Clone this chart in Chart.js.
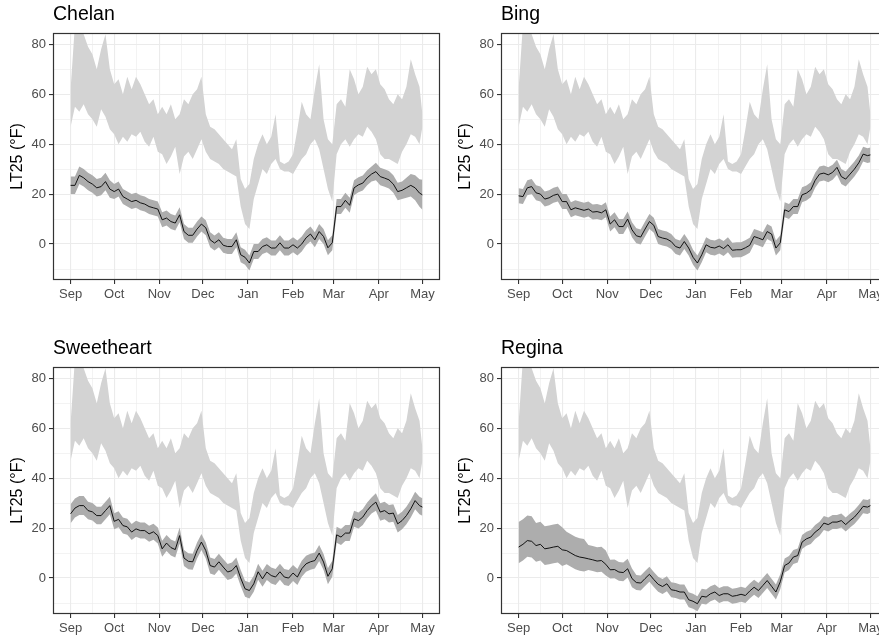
<!DOCTYPE html>
<html lang="en">
<head>
<meta charset="UTF-8" />
<title>LT25 by cultivar</title>
<script src="https://cdn.jsdelivr.net/npm/chart.js"></script>
<style>
  html, body { margin: 0; padding: 0; background: #fff; overflow: hidden; }
  body { width: 879px; height: 637px; position: relative; }
  .panel { position: absolute; width: 448px; height: 334px; }
</style>
</head>
<body>
  <div class="panel" style="left:0;top:0"><canvas id="chelan" width="448" height="334"></canvas></div>
  <div class="panel" style="left:448px;top:0"><canvas id="bing" width="448" height="334"></canvas></div>
  <div class="panel" style="left:0;top:334px"><canvas id="sweetheart" width="448" height="334"></canvas></div>
  <div class="panel" style="left:448px;top:334px"><canvas id="regina" width="448" height="334"></canvas></div>

<script>
// days since Sep 1
const days = [0,3,6,9,12,15,18,21,24,27, 30,33,36,39,42,45,48,51,54,57,
  60,63,66,69,72,75,78,81,84,87, 90,93,96,99,102,105,108,111,114,117,
  120,123,126,129,132,135,138,141,144,147, 150,153,156,159,162,165,168,171,174,177,
  180,183,186,189,192,195,198,201,204,207, 210,213,216,219,222,225,228,231,234,237,
  240,242];

// air temperature range (same site for every panel)
const tempHi = [62,88,86,84,79,76,70,78,84,70, 64,66,60,67,62,67,64,60,56,58,
  52,55,52,56,50,52,58,56,60,62, 67,52,47,46,44,42,40,38,42,26,
  22,24,34,40,44,40,43,52,33,32, 33,36,46,57,52,50,62,72,50,42,
  40,56,58,55,70,66,60,63,71,68, 70,64,62,58,56,60,58,63,74,68,
  63,52];
const tempLo = [47,55,53,56,52,50,47,54,51,46, 44,40,43,41,44,43,45,41,39,43,
  37,36,32,35,39,28,35,37,34,38, 42,37,34,33,32,30,29,28,27,15,
  8,6,18,24,30,28,32,34,30,29, 29,28,31,34,36,40,42,38,30,22,
  17,36,40,42,39,42,44,43,47,45, 42,36,34,34,33,32,37,40,44,43,
  40,47];

const chelanLT25 = [23.5,23.5,27.5,26.5,25,24,22.5,23,25,22, 21,22,19,18,17,17.5,16.5,16,15,14.5,
  14,9.7,10.4,9,8.4,11.7,5,3.5,3.5,6, 8,6.5,1.7,0.4,1.7,-0.5,-1,-1,1.7,-4.3,
  -5.3,-7.6,-3,-3,-1,-0.3,-1.6,-1.6,0.5,-1.6, -1.6,-0.3,-1.6,0,2.5,4,1.7,5,3,-1.5,
  0.5,15,15,17.5,15.5,22.5,23.7,24.4,26.5,28, 29,27,26.4,25.7,24,21,21.5,22.5,23.5,22.5,
  20.4,19.7];
const chelanSpread = [3.5,3.5,3.5,3.5,3.5,3.5,3.5,3.5,3.5,3.5, 3,3,3,3,3,3,3,3,3,3,
  3,3,3,3,3,3,3,3,3,3, 3,3,3,3,3,3,3,3,3,3,
  3,3,3,3,3,3,3,3,3,3, 3,3,3,3,3,3,3,3,3,3,
  3,3,3,3,3,3,3,3,3,3, 3.5,3.5,3.5,3.5,3.5,3.5,3.5,4,4.5,5,
  5.5,6];

const bingLT25 = [19.3,19,22.5,23,20.5,20,18,18.5,19.5,20, 17,17,13.7,14.5,14,13.5,14,12.8,13,12.5,
  13.7,8,9.7,7,7,10,5.7,3.3,2.8,6, 9,7.5,3,2.4,2,1,-1,-1.6,1,-1.6,
  -5.3,-7.6,-4.3,-0.3,-1.3,-1.6,-0.8,-1.8,-0.3,-2.5, -2.3,-2.3,-1.5,-0.5,3,2.4,1.7,5,4,-1.6,
  0.5,13.7,13,15,15,19.7,20.4,21.7,25.5,28, 28.4,27.7,28.7,30.7,27,26,28,30,32.5,36,
  35.4,35.7];
const bingSpread = [3,3,3,3,3,3,3,3,3,3, 3,3,3,3,3,3,3,3,3,3,
  3,3,3,3,3,3,3,3,3,3, 3,3,3,3,3,3,3,3,3,3,
  3,3,3,3,3,3,3,3,3,3, 3,3,3,3,3,3,3,3,3,3,
  3,3,3,3,3,3,3,3,3,3, 3,3,3,3,3,3,3,3,3,3,
  3,3];

const sweetheartLT25 = [25.7,28,29,29,27,26.5,25,25,27,29, 22.7,23.5,21,20.5,18.4,19.7,19,19,17.7,18.5,
  17,11.7,14,12.2,11.4,17,8,6.7,6.5,11, 14.4,11,5,4.4,6.5,4.4,2.4,3,5,0,
  -4.3,-5,-2.3,2.5,-0.3,2.4,1,0.4,2.5,0.4, 0,2,0.4,3.7,5.7,6.5,7,10,6.4,0.7,
  3.7,17.3,16.4,18,18,23.7,23,24.4,27,29, 30.4,26.4,27,25.7,26,21.7,23,25,27.7,31,
  29,28.4];
const sweetheartSpread = [3.8,3.8,3.8,3.8,3.5,3.5,3.5,3.5,3.5,3.5, 3.2,3.2,3.2,3.2,3.2,3.2,3.2,3.2,3.2,3.2,
  3.2,3.2,3.2,3.2,3.2,3.2,3.2,3.2,3.2,3.2, 3.2,3.2,3.2,3.2,3.2,3.2,3.2,3.2,3.2,3.2,
  3.2,3.2,3.2,3.2,3.2,3.2,3.2,3.2,3.2,3.2, 3.2,3.2,3.2,3.2,3.2,3.2,3.2,3.2,3.2,3.2,
  3.2,3.2,3.2,3.2,3.2,3.2,3.2,3.2,3.2,3.2, 3.5,3.5,3.5,3.5,3.5,3.5,3.5,3.5,3.5,3.5,
  3.5,3.5];

const reginaLT25 = [12.4,13.5,15,14.7,13,13.5,11.7,12,12.4,12.7, 11.3,11,10,9,8.4,8.1,7.7,7.3,6.8,7,
  5.5,3.3,3.4,2.4,2.2,3.7,-0.2,-1.8,-2,-0.2, 1.5,-0.6,-2.5,-3.4,-2.3,-4.7,-5,-5.6,-5.6,-8.7,
  -9.3,-10.3,-7.3,-7.6,-6.3,-5.6,-7,-6.3,-6.3,-7.3, -7,-6.5,-7,-5.2,-3.7,-5,-3,-1,-3.3,-5.6,
  -1.5,5,6,8.4,9,14.4,15.7,16.4,18.4,19.7, 22,21.4,22.4,22.4,23,21.4,23,24.4,26.4,28.7,
  28.4,29];
// Regina's band is wider above the line than below early in the season
const reginaSpreadUp = [10,10,10,10,9,9,9,9,9,9, 9,7.5,7.5,7.5,7.5,7.5,5.5,5.5,5.5,5.5,
  5.5,4,4,4,4,4,4,3,3,3, 3,3,3,3,3,3,3,3,3,3,
  3,3,3,3,3,3,3,3,3,3, 3,3,3,3,3,3,3,3,3,3,
  3,2.8,2.8,2.8,2.8,2.8,2.8,2.8,2.8,2.8, 2.8,2.8,2.8,2.8,2.8,2.8,2.8,2.8,2.8,2.8,
  2.8,2.8];
const reginaSpreadDown = [6.5,6.5,6.5,6.5,6.5,6.5,6.5,6.5,6.5,6.5, 6.5,5.5,5.5,5.5,5.5,5.5,4.5,4.5,4.5,4.5,
  4.5,3.5,3.5,3.5,3.5,3.5,3.5,3,3,3, 3,3,3,3,3,3,3,3,3,3,
  3,3,3,3,3,3,3,3,3,3, 3,3,3,3,3,3,3,3,3,3,
  3,2.8,2.8,2.8,2.8,2.8,2.8,2.8,2.8,2.8, 2.8,2.8,2.8,2.8,2.8,2.8,2.8,2.8,2.8,2.8,
  2.8,2.8];

const monthDays = [0,30,61,91,122,153,181,212,242];
const monthLabels = ['Sep','Oct','Nov','Dec','Jan','Feb','Mar','Apr','May'];
const midMonthDays = [15,45.5,76,106.5,137.5,167,196.5,227];
const yTicks = [-10,0,10,20,30,40,50,60,70,80];

const panels = [
  { id: 'chelan', title: 'Chelan', lt: chelanLT25, up: chelanSpread, down: chelanSpread },
  { id: 'bing', title: 'Bing', lt: bingLT25, up: bingSpread, down: bingSpread },
  { id: 'sweetheart', title: 'Sweetheart', lt: sweetheartLT25, up: sweetheartSpread, down: sweetheartSpread },
  { id: 'regina', title: 'Regina', lt: reginaLT25, up: reginaSpreadUp, down: reginaSpreadDown }
];

const FONT = "'Liberation Sans', Arial, sans-serif";
const GRID = '#ebebeb';
const INK = '#333333';

const pts = arr => arr.map((v, i) => ({ x: days[i], y: v }));

// ggplot-like panel border
const panelBorder = {
  id: 'panelBorder',
  afterDraw(chart) {
    const a = chart.chartArea, ctx = chart.ctx;
    ctx.save();
    ctx.strokeStyle = INK;
    ctx.lineWidth = 1.2;
    ctx.strokeRect(a.left + 0.5, a.top + 0.5, a.right - a.left - 1, a.bottom - a.top - 1);
    ctx.restore();
  }
};

function drawPanel(p) {
  const hi = p.lt.map((v, i) => v + p.up[i]);
  const lo = p.lt.map((v, i) => v - p.down[i]);

  new Chart(document.getElementById(p.id), {
    type: 'line',
    data: {
      datasets: [
        { data: pts(p.lt), borderColor: '#000', borderWidth: 0.9, pointRadius: 0, fill: false },
        { data: pts(hi), borderWidth: 0, pointRadius: 0, fill: '+1', backgroundColor: '#adadad' },
        { data: pts(lo), borderWidth: 0, pointRadius: 0, fill: false },
        { data: pts(tempHi), borderWidth: 0, pointRadius: 0, fill: '+1', backgroundColor: '#d3d3d3' },
        { data: pts(tempLo), borderWidth: 0, pointRadius: 0, fill: false }
      ]
    },
    options: {
      responsive: false,
      animation: false,
      layout: { padding: { left: 0, right: 8, top: 0, bottom: 0 } },
      plugins: {
        legend: { display: false },
        tooltip: { enabled: false },
        title: {
          display: true,
          text: p.title,
          align: 'start',
          fullSize: false,
          color: '#000',
          font: { family: FONT, size: 19.5, weight: 'normal', lineHeight: 1.2 },
          padding: { top: 3, bottom: 6.6 }
        }
      },
      scales: {
        x: {
          type: 'linear',
          min: -12.1,
          max: 254.1,
          afterBuildTicks: s => { s.ticks = monthDays.concat(midMonthDays).sort((a, b) => a - b).map(v => ({ value: v })); },
          afterFit: s => { s.height = 54; },
          border: { display: false },
          grid: {
            color: GRID,
            lineWidth: c => (monthDays.includes(c.tick && c.tick.value) ? 1.1 : 0.6),
            tickColor: c => (monthDays.includes(c.tick && c.tick.value) ? INK : 'rgba(0,0,0,0)'),
            tickLength: 4,
            tickWidth: 1.1
          },
          ticks: {
            autoSkip: false,
            maxRotation: 0,
            padding: 3,
            color: '#4d4d4d',
            font: { family: FONT, size: 13 },
            callback: v => { const k = monthDays.indexOf(v); return k >= 0 ? monthLabels[k] : ''; }
          }
        },
        y: {
          type: 'linear',
          min: -14.4,
          max: 84.5,
          afterBuildTicks: s => { s.ticks = yTicks.map(v => ({ value: v })); },
          afterFit: s => { s.width = 53; },
          border: { display: false },
          grid: {
            color: GRID,
            lineWidth: c => (c.tick && c.tick.value % 20 === 0 ? 1.1 : 0.6),
            tickColor: c => (c.tick && c.tick.value % 20 === 0 ? INK : 'rgba(0,0,0,0)'),
            tickLength: 4,
            tickWidth: 1.1
          },
          ticks: {
            autoSkip: false,
            padding: 3,
            color: '#4d4d4d',
            font: { family: FONT, size: 13 },
            callback: v => (v % 20 === 0 ? String(v) : '')
          },
          title: {
            display: true,
            text: 'LT25 (°F)',
            color: '#000',
            font: { family: FONT, size: 16 },
            padding: { top: 8, bottom: 0 }
          }
        }
      }
    },
    plugins: [panelBorder]
  });
}

panels.forEach(drawPanel);
</script>
</body>
</html>
